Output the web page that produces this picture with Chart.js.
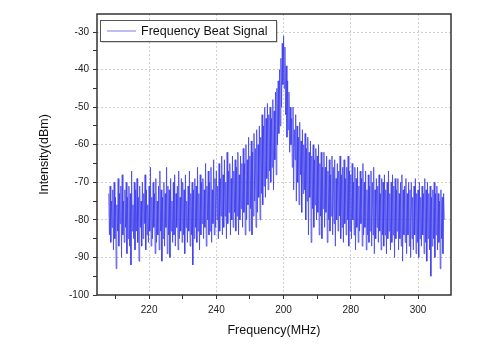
<!DOCTYPE html>
<html>
<head>
<meta charset="utf-8">
<script src="https://cdn.jsdelivr.net/npm/chart.js@4/dist/chart.umd.min.js"></script>
<style>
  body { margin: 0; background: #fff; }
</style>
</head>
<body>
<canvas id="beatChart" width="480" height="354"></canvas>
<script>
// sweep frequencies (MHz)
const freqs = [
  208, 208.2, 208.4, 208.6, 208.8, 209, 209.2, 209.4, 209.6, 209.8,
  210, 210.2, 210.4, 210.6, 210.8, 211, 211.2, 211.4, 211.6, 211.8,
  212, 212.2, 212.4, 212.6, 212.8, 213, 213.2, 213.4, 213.6, 213.8,
  214, 214.2, 214.4, 214.6, 214.8, 215, 215.2, 215.4, 215.6, 215.8,
  216, 216.2, 216.4, 216.6, 216.8, 217, 217.2, 217.4, 217.6, 217.8,
  218, 218.2, 218.4, 218.6, 218.8, 219, 219.2, 219.4, 219.6, 219.8,
  220, 220.2, 220.4, 220.6, 220.8, 221, 221.2, 221.4, 221.6, 221.8,
  222, 222.2, 222.4, 222.6, 222.8, 223, 223.2, 223.4, 223.6, 223.8,
  224, 224.2, 224.4, 224.6, 224.8, 225, 225.2, 225.4, 225.6, 225.8,
  226, 226.2, 226.4, 226.6, 226.8, 227, 227.2, 227.4, 227.6, 227.8,
  228, 228.2, 228.4, 228.6, 228.8, 229, 229.2, 229.4, 229.6, 229.8,
  230, 230.2, 230.4, 230.6, 230.8, 231, 231.2, 231.4, 231.6, 231.8,
  232, 232.2, 232.4, 232.6, 232.8, 233, 233.2, 233.4, 233.6, 233.8,
  234, 234.2, 234.4, 234.6, 234.8, 235, 235.2, 235.4, 235.6, 235.8,
  236, 236.2, 236.4, 236.6, 236.8, 237, 237.2, 237.4, 237.6, 237.8,
  238, 238.2, 238.4, 238.6, 238.8, 239, 239.2, 239.4, 239.6, 239.8,
  240, 240.2, 240.4, 240.6, 240.8, 241, 241.2, 241.4, 241.6, 241.8,
  242, 242.2, 242.4, 242.6, 242.8, 243, 243.2, 243.4, 243.6, 243.8,
  244, 244.2, 244.4, 244.6, 244.8, 245, 245.2, 245.4, 245.6, 245.8,
  246, 246.2, 246.4, 246.6, 246.8, 247, 247.2, 247.4, 247.6, 247.8,
  248, 248.2, 248.4, 248.6, 248.8, 249, 249.2, 249.4, 249.6, 249.8,
  250, 250.2, 250.4, 250.6, 250.8, 251, 251.2, 251.4, 251.6, 251.8,
  252, 252.2, 252.4, 252.6, 252.8, 253, 253.2, 253.4, 253.6, 253.8,
  254, 254.2, 254.4, 254.6, 254.8, 255, 255.2, 255.4, 255.6, 255.8,
  256, 256.2, 256.4, 256.6, 256.8, 257, 257.2, 257.4, 257.6, 257.8,
  258, 258.2, 258.4, 258.6, 258.8, 259, 259.2, 259.4, 259.6, 259.8,
  260, 260.2, 260.4, 260.6, 260.8, 261, 261.2, 261.4, 261.6, 261.8,
  262, 262.2, 262.4, 262.6, 262.8, 263, 263.2, 263.4, 263.6, 263.8,
  264, 264.2, 264.4, 264.6, 264.8, 265, 265.2, 265.4, 265.6, 265.8,
  266, 266.2, 266.4, 266.6, 266.8, 267, 267.2, 267.4, 267.6, 267.8,
  268, 268.2, 268.4, 268.6, 268.8, 269, 269.2, 269.4, 269.6, 269.8,
  270, 270.2, 270.4, 270.6, 270.8, 271, 271.2, 271.4, 271.6, 271.8,
  272, 272.2, 272.4, 272.6, 272.8, 273, 273.2, 273.4, 273.6, 273.8,
  274, 274.2, 274.4, 274.6, 274.8, 275, 275.2, 275.4, 275.6, 275.8,
  276, 276.2, 276.4, 276.6, 276.8, 277, 277.2, 277.4, 277.6, 277.8,
  278, 278.2, 278.4, 278.6, 278.8, 279, 279.2, 279.4, 279.6, 279.8,
  280, 280.2, 280.4, 280.6, 280.8, 281, 281.2, 281.4, 281.6, 281.8,
  282, 282.2, 282.4, 282.6, 282.8, 283, 283.2, 283.4, 283.6, 283.8,
  284, 284.2, 284.4, 284.6, 284.8, 285, 285.2, 285.4, 285.6, 285.8,
  286, 286.2, 286.4, 286.6, 286.8, 287, 287.2, 287.4, 287.6, 287.8,
  288, 288.2, 288.4, 288.6, 288.8, 289, 289.2, 289.4, 289.6, 289.8,
  290, 290.2, 290.4, 290.6, 290.8, 291, 291.2, 291.4, 291.6, 291.8,
  292, 292.2, 292.4, 292.6, 292.8, 293, 293.2, 293.4, 293.6, 293.8,
  294, 294.2, 294.4, 294.6, 294.8, 295, 295.2, 295.4, 295.6, 295.8,
  296, 296.2, 296.4, 296.6, 296.8, 297, 297.2, 297.4, 297.6, 297.8,
  298, 298.2, 298.4, 298.6, 298.8, 299, 299.2, 299.4, 299.6, 299.8,
  300, 300.2, 300.4, 300.6, 300.8, 301, 301.2, 301.4, 301.6, 301.8,
  302, 302.2, 302.4, 302.6, 302.8, 303, 303.2, 303.4, 303.6, 303.8,
  304, 304.2, 304.4, 304.6, 304.8, 305, 305.2, 305.4, 305.6, 305.8,
  306, 306.2, 306.4, 306.6, 306.8, 307, 307.2, 307.4, 307.6, 307.8
];

// intensity (dBm)
const intensity = [
  -73, -84, -71, -86, -75, -82, -72, -88, -70, -85,
  -74, -93, -76, -83, -69, -87, -73, -81, -71, -90,
  -68, -84, -75, -86, -72, -82, -70, -89, -74, -85,
  -71, -87, -73, -92, -67, -83, -76, -85, -70, -88,
  -72, -83, -69, -86, -74, -91, -71, -82, -75, -87,
  -70, -85, -73, -81, -68, -88, -72, -84, -76, -86,
  -71, -83, -66, -87, -74, -85, -70, -82, -73, -89,
  -69, -86, -75, -84, -71, -88, -67, -83, -72, -91,
  -74, -85, -70, -87, -73, -82, -66, -89, -71, -84,
  -72, -90, -69, -83, -75, -86, -70, -84, -68, -87,
  -73, -82, -71, -88, -67, -85, -74, -83, -69, -86,
  -70, -84, -72, -89, -68, -82, -75, -86, -71, -83,
  -67, -87, -73, -84, -70, -92, -72, -85, -69, -82,
  -71, -86, -66, -83, -73, -88, -68, -84, -70, -81,
  -69, -85, -72, -82, -65, -87, -71, -80, -67, -84,
  -70, -83, -66, -86, -72, -81, -64, -84, -69, -82,
  -67, -80, -71, -85, -65, -83, -69, -79, -63, -84,
  -68, -82, -64, -79, -70, -85, -62, -81, -67, -78,
  -65, -84, -69, -80, -63, -82, -67, -78, -64, -83,
  -66, -79, -62, -84, -68, -80, -63, -77, -65, -82,
  -61, -78, -65, -84, -60, -80, -64, -76, -58, -83,
  -63, -77, -59, -84, -62, -79, -57, -75, -61, -82,
  -56, -78, -60, -74, -55, -80, -58, -73, -52, -76,
  -55, -71, -50, -74, -53, -69, -49, -72, -52, -67,
  -50, -70, -53, -66, -48, -72, -51, -64, -46, -68,
  -45, -60, -43, -57, -40, -55, -37, -50, -33, -44,
  -31, -45, -34, -52, -39, -58, -43, -56, -46, -62,
  -50, -60, -53, -66, -50, -72, -56, -64, -52, -75,
  -55, -70, -58, -76, -54, -68, -59, -78, -56, -73,
  -60, -72, -57, -80, -61, -75, -58, -84, -62, -74,
  -59, -86, -63, -77, -60, -82, -64, -76, -61, -80,
  -63, -78, -60, -84, -65, -79, -62, -85, -66, -77,
  -62, -82, -66, -78, -63, -86, -67, -80, -64, -83,
  -68, -79, -63, -84, -66, -81, -64, -87, -69, -80,
  -65, -83, -67, -79, -63, -85, -68, -82, -66, -86,
  -64, -81, -69, -84, -66, -80, -63, -87, -67, -83,
  -68, -85, -65, -80, -70, -84, -66, -88, -69, -82,
  -66, -86, -71, -83, -67, -81, -69, -87, -65, -84,
  -70, -82, -67, -88, -72, -84, -68, -86, -71, -83,
  -67, -87, -70, -84, -66, -89, -72, -85, -69, -82,
  -71, -86, -68, -83, -73, -88, -69, -84, -70, -87,
  -68, -84, -72, -89, -70, -85, -67, -83, -73, -88,
  -70, -86, -68, -84, -71, -90, -69, -85, -72, -83,
  -69, -88, -73, -85, -70, -87, -68, -91, -72, -84,
  -71, -86, -69, -89, -73, -84, -70, -87, -72, -90,
  -70, -85, -74, -88, -71, -84, -69, -89, -73, -86,
  -72, -90, -70, -85, -74, -87, -71, -84, -73, -89,
  -69, -86, -72, -91, -70, -85, -73, -88, -71, -95,
  -74, -87, -72, -85, -70, -90, -73, -84, -71, -88,
  -73, -86, -75, -93, -72, -85, -74, -89, -73, -80
];

const xTicks = [210, 220, 230, 240, 250, 260, 270, 280, 290, 300];
const xLabels = { 220: '220', 240: '240', 260: '200', 280: '280', 300: '300' };
const yTicks = [-100, -95, -90, -85, -80, -75, -70, -65, -60, -55, -50, -45, -40, -35, -30];
const yLabels = { '-100': '-100', '-90': '-90', '-80': '-80', '-70': '-70', '-60': '-60', '-50': '-50', '-40': '-40', '-30': '-30' };

const FONT = '"Liberation Sans", Arial, sans-serif';
const lineColor = 'rgba(60, 60, 236, 0.75)';

// frame round the plot + boxed legend in the top-left corner
const framePlugin = {
  id: 'frame',
  afterDatasetsDraw(chart) {
    const { ctx, chartArea: a } = chart;
    ctx.save();
    ctx.strokeStyle = '#333';
    ctx.lineWidth = 1.5;
    ctx.strokeRect(a.left, a.top, a.right - a.left, a.bottom - a.top);

    const x = a.left + 3, y = a.top + 6, w = 176, h = 21;
    ctx.fillStyle = '#aaa';
    ctx.fillRect(x + 1.5, y + 1.5, w, h);
    ctx.fillStyle = '#fff';
    ctx.fillRect(x, y, w, h);
    ctx.strokeStyle = '#555';
    ctx.lineWidth = 1;
    ctx.strokeRect(x + 0.5, y + 0.5, w, h);

    ctx.strokeStyle = 'rgba(110, 110, 230, 0.9)';
    ctx.beginPath();
    ctx.moveTo(x + 7, y + h / 2 + 0.5);
    ctx.lineTo(x + 36, y + h / 2 + 0.5);
    ctx.stroke();

    ctx.fillStyle = '#111';
    ctx.font = '12.5px ' + FONT;
    ctx.textBaseline = 'middle';
    ctx.fillText(chart.data.datasets[0].label, x + 41, y + h / 2 + 1);
    ctx.restore();
  }
};

const ctx = document.getElementById('beatChart').getContext('2d');

new Chart(ctx, {
  type: 'line',
  data: {
    datasets: [{
      label: 'Frequency Beat Signal',
      data: freqs.map((f, i) => ({ x: f, y: intensity[i] })),
      borderColor: lineColor,
      borderWidth: 1,
      pointRadius: 0,
      tension: 0
    }]
  },
  options: {
    responsive: false,
    animation: false,
    devicePixelRatio: 1,
    layout: { padding: { left: 0, right: 29, top: 14, bottom: 0 } },
    plugins: {
      legend: { display: false },
      tooltip: { enabled: false }
    },
    scales: {
      x: {
        type: 'linear',
        min: 204.5,
        max: 309.8,
        afterBuildTicks: s => { s.ticks = xTicks.map(v => ({ value: v })); },
        afterFit: s => { s.height = 59; },
        ticks: {
          autoSkip: false,
          maxRotation: 0,
          padding: 5,
          color: '#222',
          font: { family: FONT, size: 10 },
          callback: v => xLabels[v] || ''
        },
        grid: {
          color: c => (c.tick && xLabels[c.tick.value]) ? 'rgba(0,0,0,0.18)' : 'transparent',
          tickColor: '#333',
          tickLength: 4
        },
        border: { display: false, dash: [2, 2] },
        title: {
          display: true,
          text: 'Frequency(MHz)',
          color: '#111',
          font: { family: FONT, size: 12.5 },
          padding: { top: 0, bottom: 15.5 }
        }
      },
      y: {
        min: -100,
        max: -25.2,
        afterBuildTicks: s => { s.ticks = yTicks.map(v => ({ value: v })); },
        afterFit: s => { s.width = 97; },
        ticks: {
          autoSkip: false,
          padding: 4,
          color: '#222',
          font: { family: FONT, size: 10 },
          callback: v => yLabels[v] || ''
        },
        grid: {
          color: c => (c.tick && yLabels[c.tick.value] && c.tick.value !== -100) ? 'rgba(0,0,0,0.18)' : 'transparent',
          tickColor: '#333',
          tickLength: 4
        },
        border: { display: false, dash: [2, 2] },
        title: {
          display: true,
          text: 'Intensity(dBm)',
          color: '#111',
          font: { family: FONT, size: 12.5 },
          padding: { top: 37.5, bottom: 0 }
        }
      }
    }
  },
  plugins: [framePlugin]
});
</script>
</body>
</html>
